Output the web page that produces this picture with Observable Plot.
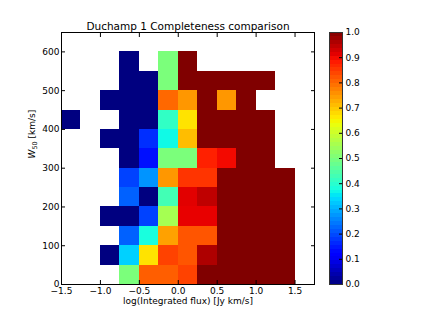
<!DOCTYPE html>
<html>
<head>
<meta charset="utf-8">
<script src="https://cdn.jsdelivr.net/npm/d3@7"></script>
<script src="https://cdn.jsdelivr.net/npm/@observablehq/plot@0.6"></script>
<style>
  body { margin: 0; background: white; }
  #wrap { position: relative; width: 421px; height: 316px; font-family: "DejaVu Sans", sans-serif; }
  #wrap svg { position: absolute; left: 0; top: 0; }
</style>
</head>
<body>
<div id="wrap"></div>
<script>
// ---- data ----
const title = "Duchamp 1 Completeness comparison";
const xLabel = "log(Integrated flux) [Jy km/s]";
const xBinStarts = [-1.5, -1.25, -1.0, -0.75, -0.5, -0.25, 0.0, 0.25, 0.5, 0.75, 1.0, 1.25];
const xBinWidth = 0.25;
const yBinStarts = [0, 50, 100, 150, 200, 250, 300, 350, 400, 450, 500, 550];
const yBinHeight = 50;
// completeness per W50 row (bottom to top), null = no data
const row0  = [null, null, null, 0.50, 0.81, 0.81, 0.84, 1.00, 1, 1, 1, 1];
const row1  = [null, null, 0.00, 0.33, 0.67, 0.84, 0.82, 0.96, 1, 1, 1, 1];
const row2  = [null, null, null, 0.22, 0.38, 0.74, 0.82, 0.82, 1, 1, 1, 1];
const row3  = [null, null, 0.00, 0.00, 0.19, 0.55, 0.91, 0.91, 1, 1, 1, 1];
const row4  = [null, null, null, 0.22, 0.00, 0.43, 0.915, 0.945, 1, 1, 1, 1];
const row5  = [null, null, null, 0.19, 0.27, 0.75, 0.855, 0.855, 1, 1, 1, 1];
const row6  = [null, null, null, 0.00, 0.14, 0.50, 0.50, 0.876, 0.90, 1, 1, null];
const row7  = [null, null, 0.00, 0.00, 0.17, 0.37, 0.71, 1.00, 1, 1, 1, null];
const row8  = [0.00, null, null, 0.00, 0.00, 0.41, 0.67, 1.00, 1, 1, 1, null];
const row9  = [null, null, 0.00, 0.00, 0.00, 0.80, 0.75, 1.00, 0.75, 1, null, null];
const row10 = [null, null, null, 0.00, 0.00, 0.50, 1.00, 1.00, 1, 1, 1, null];
const row11 = [null, null, null, 0.00, null, 0.50, 1.00, null, null, null, null, null];
const rows = [row0, row1, row2, row3, row4, row5, row6, row7, row8, row9, row10, row11];
const xTicks = [-1.5, -1.0, -0.5, 0.0, 0.5, 1.0, 1.5];
const yTicks = [0, 100, 200, 300, 400, 500, 600];
const cbTicks = [0, 0.1, 0.2, 0.3, 0.4, 0.5, 0.6, 0.7, 0.8, 0.9, 1.0];

// ---- jet colormap (matplotlib segment data) ----
const jetR = [[0, 0], [0.35, 0], [0.66, 1], [0.89, 1], [1, 0.5]];
const jetG = [[0, 0], [0.125, 0], [0.375, 1], [0.64, 1], [0.91, 0], [1, 0]];
const jetB = [[0, 0.5], [0.11, 1], [0.34, 1], [0.65, 0], [1, 0]];
function seg(s, t) {
  for (let i = 1; i < s.length; i++) {
    if (t <= s[i][0]) {
      const [x0, y0] = s[i - 1], [x1, y1] = s[i];
      return y0 + (y1 - y0) * (t - x0) / (x1 - x0);
    }
  }
  return s[s.length - 1][1];
}
function jet(t) {
  t = Math.max(0, Math.min(1, t));
  return d3.rgb(255 * seg(jetR, t), 255 * seg(jetG, t), 255 * seg(jetB, t)).formatHex();
}

const cells = [];
rows.forEach((r, j) => r.forEach((v, i) => {
  if (v !== null) cells.push({x: xBinStarts[i], y: yBinStarts[j], v});
}));

const fmt1 = d3.format(".1f");
const font = "DejaVu Sans, sans-serif";

const main = Plot.plot({
  width: 421, height: 316,
  marginLeft: 61, marginRight: 107, marginTop: 32, marginBottom: 32,
  style: {fontFamily: font, fontSize: "9px", background: "white", color: "black"},
  x: {domain: [-1.5, 1.75]},
  y: {domain: [0, 650]},
  color: {type: "linear", domain: [0, 1], interpolate: jet},
  marks: [
    Plot.rect(cells, {x1: "x", x2: d => d.x + xBinWidth, y1: "y", y2: d => d.y + yBinHeight, fill: "v", shapeRendering: "crispEdges"}),
    Plot.axisX({anchor: "bottom", ticks: xTicks, tickSize: -4, tickPadding: 7, tickFormat: fmt1, label: null, fontSize: 9}),
    Plot.axisX({anchor: "top", ticks: xTicks, tickSize: -4, tickFormat: () => "", label: null}),
    Plot.axisY({anchor: "left", ticks: yTicks, tickSize: -4, tickPadding: 6, label: null, fontSize: 9}),
    Plot.axisY({anchor: "right", ticks: yTicks, tickSize: -4, tickFormat: () => "", label: null}),
    Plot.frame({stroke: "black", strokeWidth: 1}),
    Plot.text([title], {frameAnchor: "top", dy: -10, fontSize: 10.5}),
    Plot.text([xLabel], {frameAnchor: "bottom", dy: 19, fontSize: 9}),
    Plot.text(["W50 [km/s]"], {frameAnchor: "left", dx: -29, rotate: -90, fontSize: 9})
  ]
});

// colorbar
const step = 1 / 64;
const levels = d3.range(64).map(i => i * step);
const cbar = Plot.plot({
  width: 421, height: 316,
  marginLeft: 329, marginRight: 79, marginTop: 32, marginBottom: 32,
  style: {fontFamily: font, fontSize: "9px", background: "none", color: "black"},
  x: {domain: [0, 1], axis: null},
  y: {domain: [0, 1]},
  color: {type: "linear", domain: [0, 1], interpolate: jet},
  marks: [
    Plot.rect(levels, {x1: 0, x2: 1, y1: d => d, y2: d => d + step, fill: d => d + step / 2, shapeRendering: "crispEdges"}),
    Plot.axisY({anchor: "right", ticks: cbTicks, tickSize: -4, tickPadding: 7, tickFormat: fmt1, label: null, fontSize: 9}),
    Plot.frame({stroke: "#333", strokeWidth: 1})
  ]
});

const wrap = document.getElementById("wrap");
wrap.appendChild(main);
wrap.appendChild(cbar);

// mathtext-style y label: italic W with subscript 50
main.querySelectorAll("text").forEach(t => {
  if (t.textContent === "W50 [km/s]") {
    t.textContent = "";
    const ns = "http://www.w3.org/2000/svg";
    const a = document.createElementNS(ns, "tspan"); a.textContent = "W"; a.setAttribute("font-style", "italic");
    const b = document.createElementNS(ns, "tspan"); b.textContent = "50"; b.setAttribute("font-size", "6.5"); b.setAttribute("dy", "2");
    const c = document.createElementNS(ns, "tspan"); c.textContent = " [km/s]"; c.setAttribute("dy", "-2");
    t.appendChild(a); t.appendChild(b); t.appendChild(c);
  }
});
</script>
</body>
</html>
